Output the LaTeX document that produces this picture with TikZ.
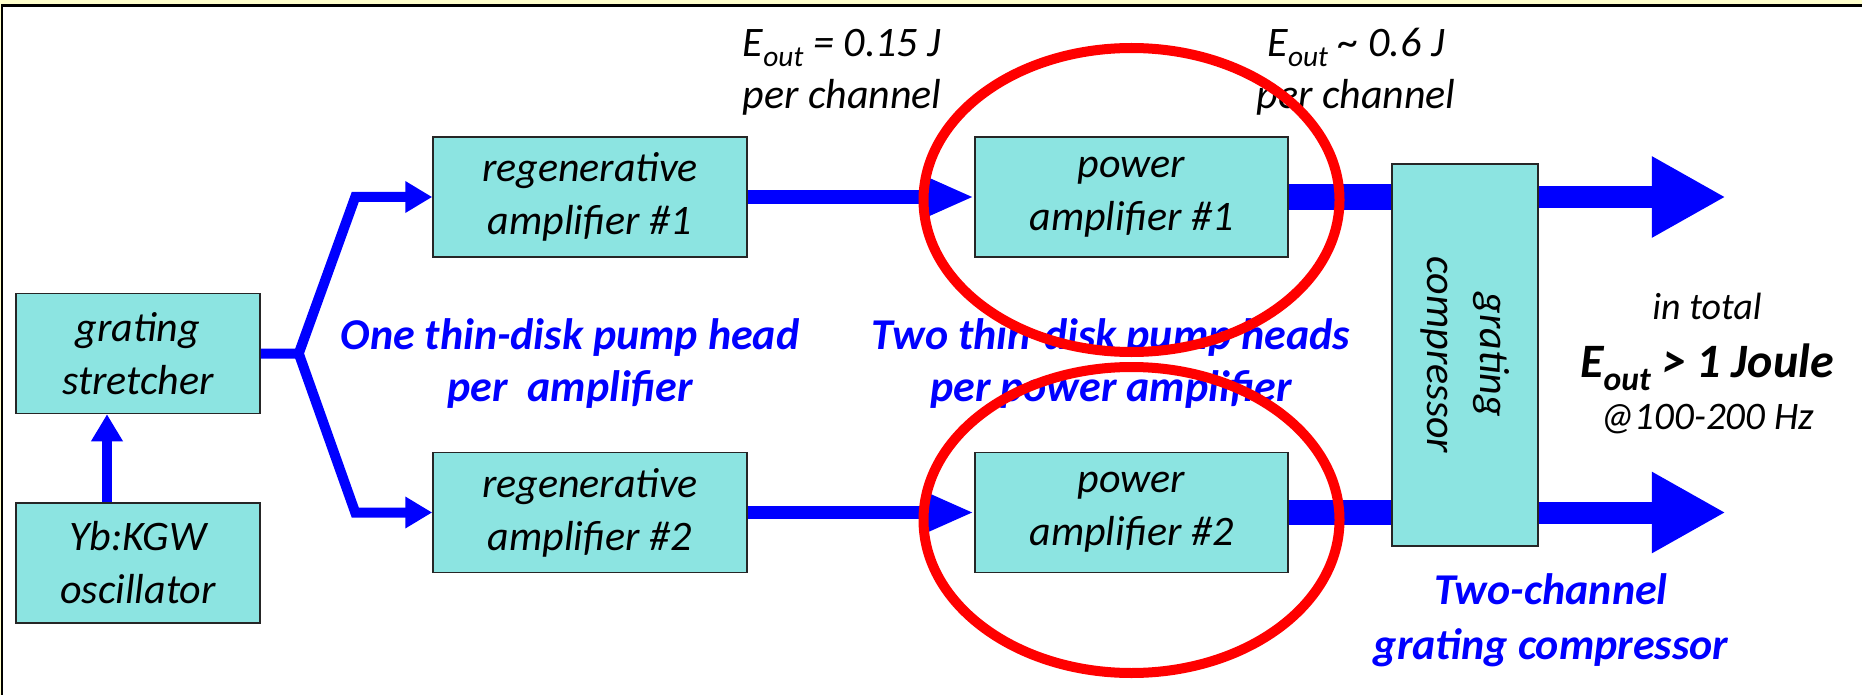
\documentclass[tikz,border=0pt]{standalone}
\usepackage{fontspec}
\setmainfont{Carlito}
\usepackage{graphicx}
\usetikzlibrary{positioning,arrows.meta}

\definecolor{boxcyan}{RGB}{140,228,225}
\definecolor{slidebg}{RGB}{255,255,204}

\tikzset{
  unit/.style={draw=black!85, line width=1.5pt, fill=boxcyan, inner sep=0pt,
    align=center, minimum height=120pt, font=\fontsize{42}{53}\selectfont\itshape},
  note/.style={align=center, inner sep=0pt, font=\fontsize{42}{52}\selectfont\itshape},
  pumpnote/.style={note, text=blue, font=\fontsize{44}{52}\selectfont\bfseries\itshape},
  seedray/.style={draw=blue, line width=10pt, -{Triangle[length=27pt,width=30pt]}},
  regenray/.style={draw=blue, line width=13pt, -{Triangle[length=52pt,width=40pt]}},
  powerray/.style={draw=blue, line width=25pt},
  outray/.style={draw=blue, line width=22pt, -{Triangle[length=74pt,width=76pt]}},
  ring/.style={draw=red, line width=10pt}
}

\begin{document}
\begin{tikzpicture}[x=1pt,y=-1pt,on grid]
  \useasboundingbox (0,0) rectangle (1862,695);
  % slide frame
  \fill[slidebg] (0,0) rectangle (1862,695);
  \fill[white] (2,5) rectangle (1862,695);
  \draw[line width=2.5pt] (2.2,695) -- (2.2,5.3) -- (1862,5.3);

  % front end and the two channels
  \node[unit, minimum width=244pt] (stretch) at (138,353.5) {grating\\stretcher};
  \node[unit, minimum width=244pt] (osc) [below=209.5pt of stretch] {Yb:KGW\\oscillator};
  \node[unit, minimum width=314pt] (regen1) [above right=156.5pt and 452pt of stretch] {regenerative\\amplifier \#1};
  \node[unit, minimum width=314pt] (regen2) [below right=159pt and 452pt of stretch] {regenerative\\amplifier \#2};
  \node[unit, minimum width=313pt] (power1) [right=541.5pt of regen1] {power\\amplifier \#1};
  \node[unit, minimum width=313pt] (power2) [right=541.5pt of regen2] {power\\amplifier \#2};
  \node[unit, minimum width=146pt, minimum height=382pt] (comp) [below right=158pt and 333.5pt of power1]
    {\rotatebox{-90}{\begin{tabular}{@{}c@{}}grating\\compressor\end{tabular}}};

  \coordinate (split) at ([xshift=38pt]stretch.east);
  \path (comp.east |- power1.east) ++(187pt,0) coordinate (out1);
  \path (comp.east |- power2.east) ++(187pt,0) coordinate (out2);

  % beams
  \draw[seedray] ([xshift=-31pt]osc.north) -- ([xshift=-31pt]stretch.south);
  \draw[seedray] (stretch.east) -- (split) -- ([xshift=-77pt]regen1.west) -- (regen1.west);
  \draw[seedray] (split) -- ([xshift=-77pt]regen2.west) -- (regen2.west);
  \draw[regenray] (regen1.east) -- (power1.west);
  \draw[regenray] (regen2.east) -- (power2.west);
  \draw[powerray] (power1.east) -- (power1.east -| comp.west);
  \draw[powerray] (power2.east) -- (power2.east -| comp.west);
  \draw[outray] (comp.east |- power1.east) -- (out1);
  \draw[outray] (comp.east |- power2.east) -- (out2);

  % annotations
  \node[note] (eout1) at (842,72) {E\textsubscript{out} = 0.15 J\\per channel};
  \node[note] (eout2) at (1356,72) {E\textsubscript{out} \textasciitilde\ 0.6 J\\per channel};
  \node[pumpnote] (heads1) at (570,363.5) {One thin-disk pump head\\per\ \ amplifier};
  \node[pumpnote] (heads2) at (1111,363.5) {Two thin-disk pump heads\\per power amplifier};
  \node[note] (total) at (1707,363.5) {{\fontsize{38}{51}\selectfont in total}\\[6pt]%
    {\fontsize{48}{51}\selectfont\bfseries E\textsubscript{out} > 1 Joule}\\%
    {\fontsize{39}{51}\selectfont @100-200 Hz}};
  \node[pumpnote, font=\fontsize{44}{55}\selectfont\bfseries\itshape] (twochan) at (1551,620)
    {Two-channel\\grating compressor};

  % highlight the power amplifiers
  \draw[ring] ([yshift=-3pt]power1.center) ellipse [x radius=208pt, y radius=152pt];
  \draw[ring] ([yshift=-7.5pt]power2.center) ellipse [x radius=208pt, y radius=153pt];
\end{tikzpicture}
\end{document}
